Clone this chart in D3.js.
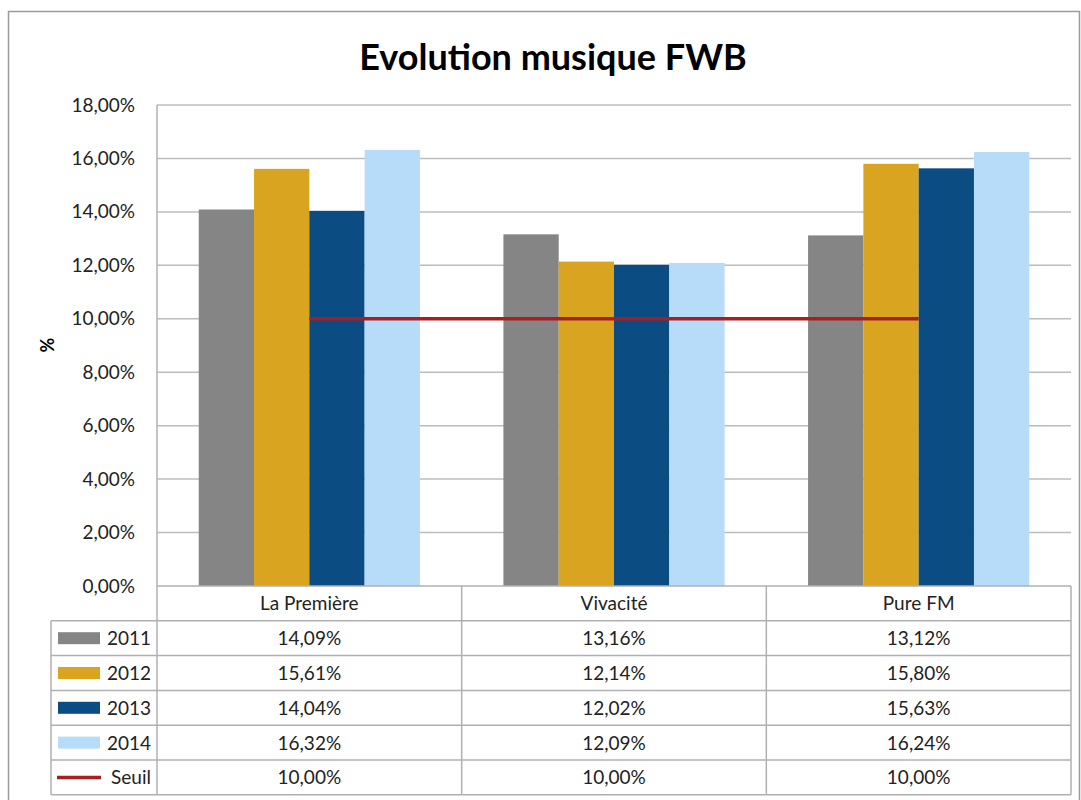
<!DOCTYPE html>
<html><head><meta charset="utf-8">
<script src="https://cdn.jsdelivr.net/npm/d3@7"></script>
<style>body{margin:0;background:#fff}svg{display:block}text{font-family:Lato,"Open Sans",sans-serif;fill:#222}</style>
</head><body><svg id="c" width="1081" height="800"></svg>
<script>
const categories = ["La Première", "Vivacité", "Pure FM"];
const seriesNames = ["2011", "2012", "2013", "2014"];
const v2011 = [14.09, 13.16, 13.12];
const v2012 = [15.61, 12.14, 15.80];
const v2013 = [14.04, 12.02, 15.63];
const v2014 = [16.32, 12.09, 16.24];
const seuil = [10.00, 10.00, 10.00];
const yTicks = [0, 2, 4, 6, 8, 10, 12, 14, 16, 18];
const colors = ["#858585", "#D9A520", "#0B4C83", "#B6DCFA"];
const seuilColor = "#A81E22";

const seriesVals = [v2011, v2012, v2013, v2014];
const fmt = v => v.toFixed(2).replace(".", ",") + "%";

const svg = d3.select("#c");
const L = 157, R = 1071, T = 105, B = 586;
const rowH = 34.8, tableLeft = 51;
const fs = "19px";

// outer border
svg.append("rect").attr("x", 8.5).attr("y", 11.5).attr("width", 1071).attr("height", 800)
  .attr("fill", "none").attr("stroke", "#9a9a9a").attr("stroke-width", 1.5);

// title
svg.append("text").attr("x", 553).attr("y", 70).attr("text-anchor", "middle")
  .style("font-size", "36px").style("font-weight", "bold").style("fill", "#000")
  .text("Evolution musique FWB");

const y = d3.scaleLinear().domain([0, 18]).range([B, T]);
const x0 = d3.scaleBand().domain(categories).range([L, R]).padding(0);
const x1 = d3.scaleBand().domain(seriesNames).range([0, x0.bandwidth()]).paddingInner(0).paddingOuter(0.755);

// gridlines
svg.append("g").selectAll("line").data(yTicks.filter(d => d > 0)).join("line")
  .attr("x1", L).attr("x2", R).attr("y1", d => y(d)).attr("y2", d => y(d))
  .attr("stroke", "#bcbcbc").attr("stroke-width", 1.5);

// y axis labels
const yAxis = d3.axisLeft(y).tickValues(yTicks).tickFormat(fmt).tickSize(0).tickPadding(22);
const ga = svg.append("g").attr("transform", `translate(${L},0)`).call(yAxis);
ga.select(".domain").remove();
ga.selectAll("text").style("font-size", fs).style("font-family", "Lato, 'Open Sans', sans-serif").attr("fill", "#222");

// y axis title
svg.append("text").attr("transform", "translate(54,345) rotate(-90)").attr("text-anchor", "middle")
  .style("font-size", "18px").style("font-weight", "bold").style("fill", "#000").text("%");

// bars
seriesNames.forEach((s, i) => {
  svg.append("g").selectAll("rect").data(categories).join("rect")
    .attr("x", (c) => x0(c) + x1(s))
    .attr("width", x1.bandwidth())
    .attr("y", (c, j) => y(seriesVals[i][j]))
    .attr("height", (c, j) => B - y(seriesVals[i][j]))
    .attr("fill", colors[i]);
});

// seuil line
const line = d3.line().x(d => x0(d.c) + x0.bandwidth() / 2).y(d => y(d.v));
svg.append("path").datum(categories.map((c, j) => ({ c, v: seuil[j] })))
  .attr("d", line).attr("fill", "none").attr("stroke", seuilColor).attr("stroke-width", 3.5);

// table
const tg = svg.append("g");
const lineColor = "#b0b0b0";
const tableBottom = B + rowH * 6;
tg.append("line").attr("x1", L).attr("x2", L).attr("y1", T).attr("y2", tableBottom).attr("stroke", lineColor).attr("stroke-width", 1.5);
categories.forEach((c, j) => {
  const xr = x0(c) + x0.bandwidth();
  tg.append("line").attr("x1", xr).attr("x2", xr).attr("y1", B).attr("y2", tableBottom).attr("stroke", lineColor).attr("stroke-width", 1.5);
});
tg.append("line").attr("x1", L).attr("x2", R).attr("y1", B).attr("y2", B).attr("stroke", lineColor).attr("stroke-width", 1.5);
for (let r = 1; r <= 6; r++) {
  const yy = B + rowH * r;
  tg.append("line").attr("x1", tableLeft).attr("x2", R).attr("y1", yy).attr("y2", yy).attr("stroke", lineColor).attr("stroke-width", 1.5);
}
tg.append("line").attr("x1", tableLeft).attr("x2", tableLeft).attr("y1", B + rowH).attr("y2", tableBottom).attr("stroke", lineColor).attr("stroke-width", 1.5);

// header
categories.forEach(c => {
  tg.append("text").attr("x", x0(c) + x0.bandwidth() / 2).attr("y", B + rowH / 2 + 7)
    .attr("text-anchor", "middle").style("font-size", fs).text(c);
});
// rows
const rows = seriesNames.map((s, i) => ({ name: s, vals: seriesVals[i], color: colors[i], type: "bar" }))
  .concat([{ name: "Seuil", vals: seuil, color: seuilColor, type: "line" }]);
rows.forEach((r, i) => {
  const cy = B + rowH * (i + 1) + rowH / 2;
  if (r.type === "bar") {
    tg.append("rect").attr("x", 58).attr("y", cy - 6).attr("width", 42).attr("height", 12).attr("fill", r.color);
  } else {
    tg.append("line").attr("x1", 57).attr("x2", 101).attr("y1", cy).attr("y2", cy).attr("stroke", r.color).attr("stroke-width", 3.5);
  }
  tg.append("text").attr("x", 151).attr("y", cy + 7).attr("text-anchor", "end").style("font-size", fs).text(r.name);
  categories.forEach((c, j) => {
    tg.append("text").attr("x", x0(c) + x0.bandwidth() / 2).attr("y", cy + 7)
      .attr("text-anchor", "middle").style("font-size", fs).text(fmt(r.vals[j]));
  });
});
</script></body></html>
